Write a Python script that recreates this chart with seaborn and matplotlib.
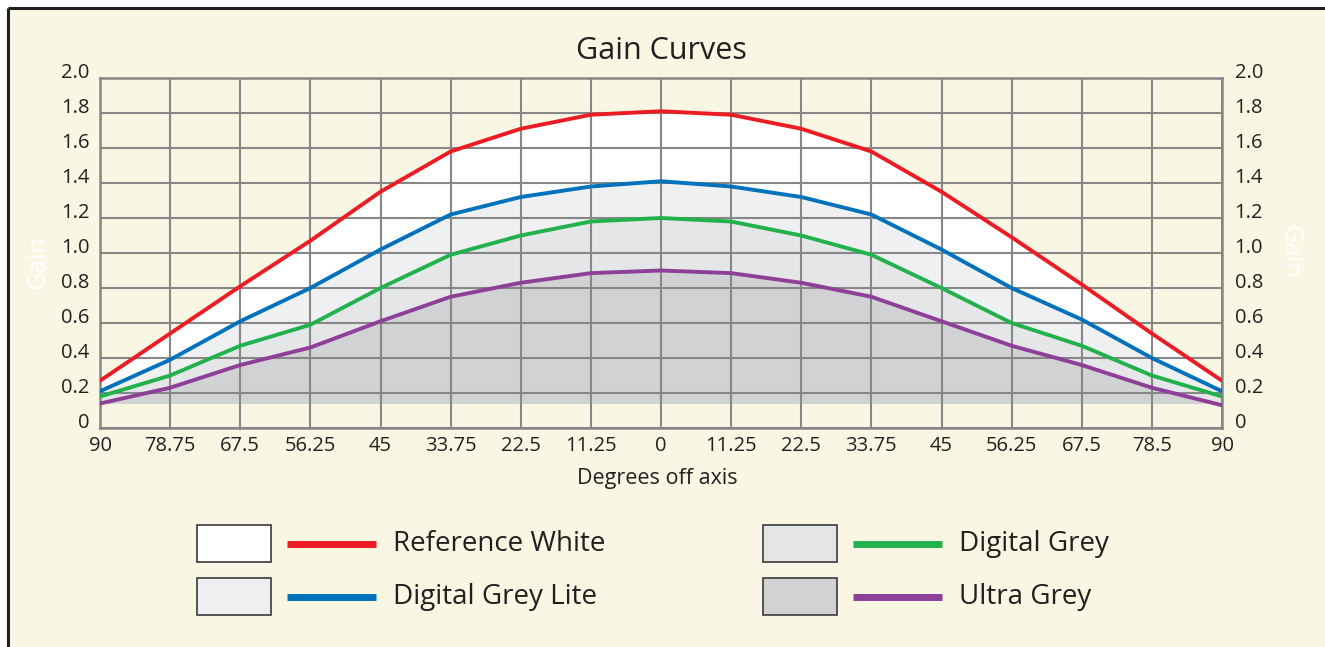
import pandas as pd
import matplotlib.pyplot as plt
import seaborn as sns
from matplotlib.patches import Rectangle

# ------------------------------------
# DATA
# ------------------------------------

angles = [-90, -78.75, -67.5, -56.25, -45, -33.75, -22.5, -11.25, 0,
          11.25, 22.5, 33.75, 45, 56.25, 67.5, 78.75, 90]
angle_labels = ["90", "78.75", "67.5", "56.25", "45", "33.75", "22.5", "11.25", "0",
                "11.25", "22.5", "33.75", "45", "56.25", "67.5", "78.5", "90"]

reference_white = [0.27, 0.54, 0.81, 1.07, 1.35, 1.58, 1.71, 1.79, 1.81,
                   1.79, 1.71, 1.58, 1.35, 1.09, 0.82, 0.54, 0.27]
digital_grey_lite = [0.21, 0.39, 0.61, 0.80, 1.02, 1.22, 1.32, 1.38, 1.41,
                     1.38, 1.32, 1.22, 1.02, 0.80, 0.62, 0.40, 0.21]
digital_grey = [0.18, 0.30, 0.47, 0.59, 0.80, 0.99, 1.10, 1.18, 1.20,
                1.18, 1.10, 0.99, 0.80, 0.60, 0.47, 0.30, 0.18]
ultra_grey = [0.14, 0.23, 0.36, 0.46, 0.61, 0.75, 0.83, 0.885, 0.90,
              0.885, 0.83, 0.75, 0.61, 0.47, 0.36, 0.23, 0.13]
fill_floor = 0.14

series_names = ["Reference White", "Digital Grey Lite", "Digital Grey", "Ultra Grey"]
line_colors = ["#ed1c24", "#0072bc", "#22b14c", "#8e3f98"]
fill_colors = ["#ffffff", "#eff0f2", "#e5e6e8", "#d1d2d4"]

gain_ticks = [0, 0.2, 0.4, 0.6, 0.8, 1.0, 1.2, 1.4, 1.6, 1.8, 2.0]
gain_labels = ["0", "0.2", "0.4", "0.6", "0.8", "1.0", "1.2", "1.4", "1.6", "1.8", "2.0"]

df = pd.DataFrame({
    "angle": angles * 4,
    "gain": reference_white + digital_grey_lite + digital_grey + ultra_grey,
    "series": [s for s in series_names for _ in angles],
})

# ------------------------------------
# STYLE
# ------------------------------------

sns.set_style("white")
plt.rcParams["font.family"] = ["Open Sans", "DejaVu Sans"]
text_color = "#231f20"
beige = "#f9f6e4"
grid_color = "#878787"

fig = plt.figure(figsize=(13.25, 6.47), dpi=100, facecolor="white")

# background layer: beige panel, black frame, legend
bg = fig.add_axes([0, 0, 1, 1])
bg.set_xlim(0, 1325)
bg.set_ylim(647, 0)
bg.axis("off")
bg.add_patch(Rectangle((8, 8), 1330, 650, facecolor=beige, edgecolor="none"))
bg.plot([8, 1325], [8, 8], color=text_color, lw=2.2, solid_capstyle="butt")
bg.plot([8, 8], [8, 647], color=text_color, lw=2.2, solid_capstyle="butt")

# ------------------------------------
# MAIN CHART
# ------------------------------------

ax = fig.add_axes([100 / 1325, 1 - 428 / 647, 1122 / 1325, 350 / 647])
ax.set_facecolor(beige)

curves = [reference_white, digital_grey_lite, digital_grey, ultra_grey]
lowers = [digital_grey_lite, digital_grey, ultra_grey, [fill_floor] * len(angles)]
for upper, lower, fc in zip(curves, lowers, fill_colors):
    ax.fill_between(angles, lower, upper, color=fc, lw=0, zorder=1)

sns.lineplot(data=df, x="angle", y="gain", hue="series", hue_order=series_names,
             palette=line_colors, linewidth=2.8, legend=False, ax=ax, zorder=3)

ax.set_xlim(-90, 90)
ax.set_ylim(0, 2.0)
ax.set_xticks(angles)
ax.set_xticklabels(angle_labels)
ax.set_yticks(gain_ticks)
ax.set_yticklabels(gain_labels)
ax.grid(True, color=grid_color, lw=1.5, zorder=2)
ax.set_axisbelow(False)
for sp in ax.spines.values():
    sp.set_visible(True)
    sp.set_color(grid_color)
    sp.set_linewidth(1.8)
ax.tick_params(axis="both", length=0, labelsize=14.5, labelcolor=text_color)
ax.tick_params(axis="x", pad=6)
ax.tick_params(axis="y", pad=7.5)
for lbl in ax.get_yticklabels():
    lbl.set_va("baseline")

ax.set_xlabel("Degrees off axis", fontsize=15.5, color=text_color)
ax.xaxis.set_label_coords(0.497, -0.143)
ax.xaxis.label.set_va("center")
ax.set_ylabel("Gain", fontsize=18, color="white")
ax.yaxis.set_label_coords(-0.055, 0.474)
ax.yaxis.label.set_va("center")

ax.set_title("Gain Curves", fontsize=22, color=text_color, pad=14)

# right hand axis mirrors the gain scale
ax2 = ax.twinx()
ax2.set_ylim(0, 2.0)
ax2.set_yticks(gain_ticks)
ax2.set_yticklabels(gain_labels)
ax2.tick_params(axis="y", length=0, labelsize=14.5, labelcolor=text_color, pad=9)
for lbl in ax2.get_yticklabels():
    lbl.set_va("baseline")
for sp in ax2.spines.values():
    sp.set_visible(False)
ax2.set_ylabel("Gain", fontsize=18, color="white", rotation=270)
ax2.yaxis.set_label_coords(1.0606, 0.503)
ax2.yaxis.label.set_va("center")

# ------------------------------------
# LEGEND (swatch + line + label)
# ------------------------------------

legend_cols = [(197, 287, 393), (763, 853, 959)]
legend_rows = [525, 578]
order = [(0, 0), (1, 0), (0, 1), (1, 1)]  # (row, col) per series
for name, lc, fc, (r, c) in zip(series_names, line_colors, fill_colors, order):
    bx, lx, tx = legend_cols[c]
    y0 = legend_rows[r]
    bg.add_patch(Rectangle((bx, y0), 74, 37, facecolor=fc, edgecolor="#3a3a3a", lw=1.2))
    bg.plot([lx, lx + 89], [y0 + 19, y0 + 19], color=lc, lw=5, solid_capstyle="butt")
    bg.text(tx, y0 + 19, name, fontsize=20, color=text_color, va="center", ha="left")

fig.savefig("out.png", dpi=100, facecolor=fig.get_facecolor())
plt.close()
